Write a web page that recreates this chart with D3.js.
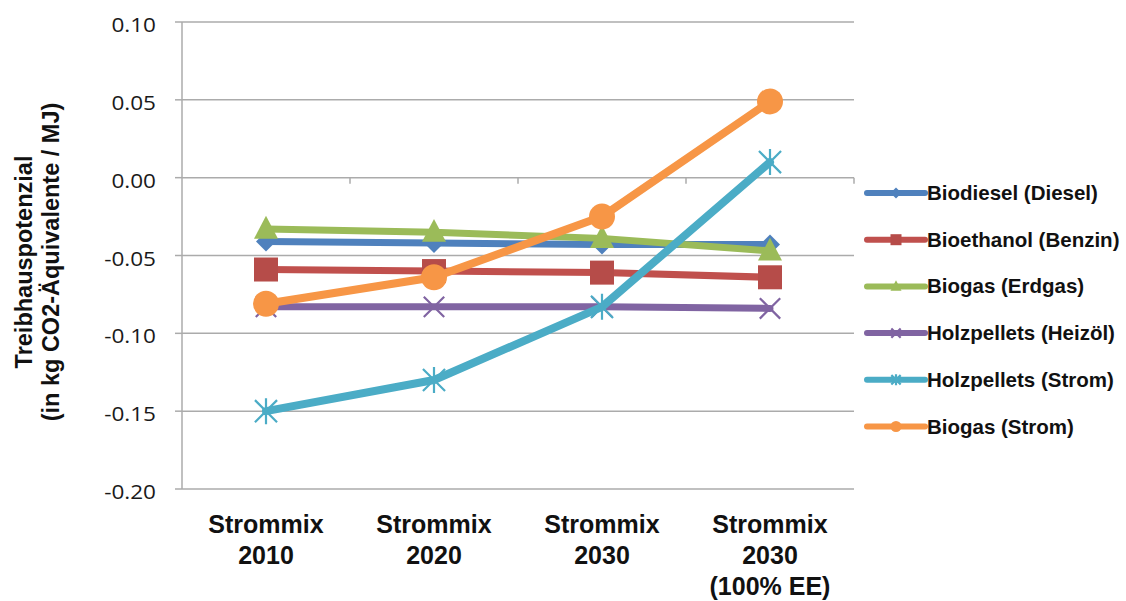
<!DOCTYPE html>
<html><head><meta charset="utf-8">
<script src="https://cdn.jsdelivr.net/npm/d3@7"></script>
<style>
html,body{margin:0;padding:0;background:#fff;}
svg{display:block;}
</style></head>
<body>
<svg id="chart" width="1126" height="601"></svg>
<script>
const categories = [["Strommix","2010"],["Strommix","2020"],["Strommix","2030"],["Strommix","2030","(100% EE)"]];
const seriesNames = ["Biodiesel (Diesel)","Bioethanol (Benzin)","Biogas (Erdgas)","Holzpellets (Heizöl)","Holzpellets (Strom)","Biogas (Strom)"];
const biodiesel   = [-0.041, -0.042, -0.043, -0.043];
const bioethanol  = [-0.059, -0.060, -0.061, -0.064];
const biogasErd   = [-0.033, -0.035, -0.039, -0.047];
const holzHeiz    = [-0.083, -0.083, -0.083, -0.084];
const holzStrom   = [-0.150, -0.130, -0.083, 0.010];
const biogasStrom = [-0.081, -0.064, -0.025, 0.049];
const yTicks = [-0.20,-0.15,-0.10,-0.05,0.00,0.05,0.10];
const colors = ["#4F81BD","#C0504D","#9BBB59","#8064A2","#4BACC6","#F79646"];
const markers = ["diamond","square","triangle","x","star","circle"];
const yTitle = ["Treibhauspotenzial","(in kg CO2-Äquivalente / MJ)"];

const series = seriesNames.map((n,i)=>({name:n, values:[biodiesel,bioethanol,biogasErd,holzHeiz,holzStrom,biogasStrom][i], color:colors[i], marker:markers[i]}));

const svg = d3.select("#chart");
const pL = 182, pR = 854, pT = 22, pB = 489;
const x = d3.scaleBand().domain(d3.range(categories.length)).range([pL,pR]);
const y = d3.scaleLinear().domain([-0.2,0.1]).range([pB,pT]);
const grid = "#ababab";

// gridlines
svg.append("g").selectAll("line").data(yTicks).join("line")
  .attr("x1",pL).attr("x2",pR).attr("y1",d=>y(d)).attr("y2",d=>y(d))
  .attr("stroke",grid).attr("stroke-width",1.5);
// y axis line and ticks
svg.append("line").attr("x1",pL).attr("x2",pL).attr("y1",pT).attr("y2",pB).attr("stroke",grid).attr("stroke-width",1.5);
svg.append("g").selectAll("line").data(yTicks).join("line")
  .attr("x1",pL-7).attr("x2",pL).attr("y1",d=>y(d)).attr("y2",d=>y(d)).attr("stroke",grid).attr("stroke-width",1.5);
// category axis ticks at zero line
svg.append("g").selectAll("line").data(d3.range(1,categories.length+1)).join("line")
  .attr("x1",d=>pL+d*x.step()).attr("x2",d=>pL+d*x.step()).attr("y1",y(0)).attr("y2",y(0)+6)
  .attr("stroke",grid).attr("stroke-width",1.5);

// y tick labels
svg.append("g").selectAll("text").data(yTicks).join("text")
  .attr("transform",d=>`translate(156,${y(d)+10}) scale(1.1,1)`)
  .attr("text-anchor","end")
  .attr("font-family","'Open Sans', sans-serif").attr("font-size",20.5).attr("fill","#1a1a1a")
  .text(d=>d3.format(".2f")(d).replace("−","-"));

// x labels
const xl = svg.append("g").selectAll("text").data(categories).join("text")
  .attr("x",(d,i)=>x(i)+x.bandwidth()/2).attr("y",533)
  .attr("text-anchor","middle").attr("font-family","'Liberation Sans', Arial, sans-serif")
  .attr("font-weight","bold").attr("font-size",25).attr("fill","#111");
xl.each(function(d){
  d3.select(this).selectAll("tspan").data(d).join("tspan")
    .attr("x",d3.select(this).attr("x")).attr("dy",(t,j)=>j?31:0).text(t=>t);
});

// y title
const yt = svg.append("text").attr("transform","translate(0,262) rotate(-90)")
  .attr("text-anchor","middle").attr("font-family","'Liberation Sans', Arial, sans-serif")
  .attr("font-weight","bold").attr("font-size",23.5).attr("fill","#111");
yt.selectAll("tspan").data(yTitle).join("tspan").attr("x",0).attr("y",(d,i)=>i?59:32).text(d=>d);

function drawMarker(g, type, cx, cy, s, color){
  const h = s/2;
  if(type==="diamond"){
    g.append("path").attr("d",`M${cx},${cy-h}L${cx+h},${cy}L${cx},${cy+h}L${cx-h},${cy}Z`).attr("fill",color);
  } else if(type==="square"){
    g.append("rect").attr("x",cx-h).attr("y",cy-h).attr("width",s).attr("height",s).attr("fill",d3.color(color).darker(0.15));
  } else if(type==="triangle"){
    g.append("path").attr("d",`M${cx},${cy-h*1.1}L${cx+h},${cy+h*0.8}L${cx-h},${cy+h*0.8}Z`).attr("fill",color);
  } else if(type==="circle"){
    g.append("circle").attr("cx",cx).attr("cy",cy).attr("r",h).attr("fill",color);
  } else if(type==="x" || type==="star"){
    const k = h*0.85;
    g.append("path").attr("d",`M${cx-k},${cy-k}L${cx+k},${cy+k}M${cx-k},${cy+k}L${cx+k},${cy-k}`+(type==="star"?`M${cx},${cy-h}L${cx},${cy+h}`:""))
      .attr("stroke",color).attr("stroke-width",2.2).attr("fill","none");
  }
}
const msize = {diamond:20,square:24,triangle:24,x:24,star:26,circle:26};

const line = d3.line().x((d,i)=>x(i)+x.bandwidth()/2).y(d=>y(d));
series.forEach(s=>{
  const g = svg.append("g");
  g.append("path").attr("d",line(s.values)).attr("fill","none").attr("stroke",s.color)
    .attr("stroke-width", s.marker==="star"||s.marker==="circle"?8:7).attr("stroke-linejoin","round").attr("stroke-linecap","round");
  s.values.forEach((v,i)=>drawMarker(g, s.marker, x(i)+x.bandwidth()/2, y(v), msize[s.marker], s.color));
});

// legend
const lg = svg.append("g");
series.forEach((s,i)=>{
  const cy = 193 + i*46.7;
  const g = lg.append("g");
  g.append("line").attr("x1",867).attr("x2",925).attr("y1",cy).attr("y2",cy).attr("stroke",s.color).attr("stroke-width",6).attr("stroke-linecap","round");
  drawMarker(g, s.marker, 896, cy, 11, s.color);
  g.append("text").attr("x",927).attr("y",cy+7).attr("font-family","'Liberation Sans', Arial, sans-serif")
    .attr("font-weight","bold").attr("font-size",20.5).attr("fill","#111").text(s.name);
});
</script>
</body></html>
